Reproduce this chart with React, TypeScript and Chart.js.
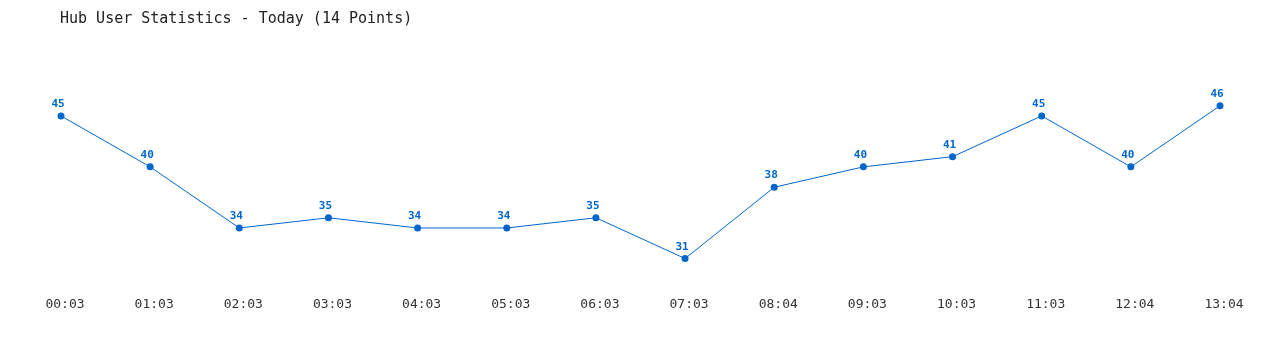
import React, { useEffect, useRef } from "react";
import { Chart, registerables } from "chart.js";

Chart.register(...registerables);

const TITLE = "Hub User Statistics - Today (14 Points)";
const categories = ["00:03", "01:03", "02:03", "03:03", "04:03", "05:03", "06:03", "07:03", "08:04", "09:03", "10:03", "11:03", "12:04", "13:04"];
const users = [45, 40, 34, 35, 34, 34, 35, 31, 38, 40, 41, 45, 40, 46];

const FONT = "'DejaVu Sans Mono', 'Liberation Mono', monospace";
const BLUE = "#0066cc";

const overlay = {
  id: "overlay",
  afterDatasetsDraw(chart: any) {
    const ctx = chart.ctx;
    ctx.save();
    ctx.fillStyle = "#222";
    ctx.font = `15px ${FONT}`;
    ctx.textAlign = "left";
    ctx.textBaseline = "middle";
    ctx.fillText(TITLE, 60, 19);
    const meta = chart.getDatasetMeta(0);
    ctx.fillStyle = BLUE;
    ctx.font = `bold 11px ${FONT}`;
    ctx.textAlign = "center";
    ctx.textBaseline = "alphabetic";
    meta.data.forEach((pt: any, i: number) => {
      ctx.fillText(String(users[i]), pt.x - 3, pt.y - 9);
    });
    ctx.restore();
  },
};

export default function App() {
  const ref = useRef<HTMLCanvasElement>(null);
  useEffect(() => {
    const chart = new Chart(ref.current!, {
      type: "line",
      data: {
        labels: categories,
        datasets: [
          {
            data: users,
            borderColor: BLUE,
            backgroundColor: BLUE,
            borderWidth: 1,
            pointRadius: 3.5,
            pointBackgroundColor: BLUE,
            pointBorderWidth: 0,
            tension: 0,
          },
        ],
      },
      options: {
        responsive: false,
        animation: false,
        layout: { padding: { left: 61, right: 60, top: 65, bottom: 28 } },
        plugins: { legend: { display: false }, tooltip: { enabled: false }, title: { display: false } },
        scales: {
          x: {
            offset: false,
            grid: { display: false },
            border: { display: false },
            ticks: { color: "#333", font: { family: FONT, size: 13 }, padding: 10, labelOffset: 4, maxRotation: 0, autoSkip: false },
          },
          y: { display: false, min: 29.05, max: 50 },
        },
      },
      plugins: [overlay],
    });
    return () => chart.destroy();
  }, []);
  return (
    <div style={{ position: "fixed", left: 0, top: 0, width: 1280, height: 350, background: "#fff" }}>
      <canvas ref={ref} width={1280} height={350} />
    </div>
  );
}
